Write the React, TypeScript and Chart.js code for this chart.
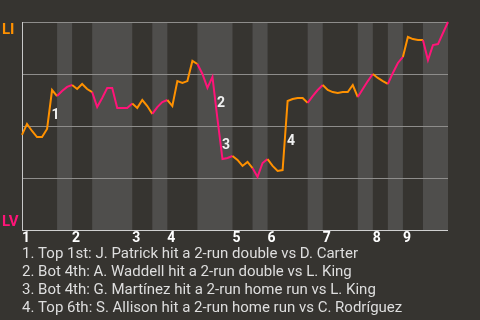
import React, { useEffect, useRef } from "react";
import { Chart, registerables } from "chart.js";

Chart.register(...registerables);

// Win probability for LI (1 = LI wins, 0 = LV wins), one value per game event
const winProb = [
  0.457, 0.51, 0.476, 0.447, 0.447, 0.486, 0.673, 0.644, 0.668, 0.688,
  0.697, 0.678, 0.702, 0.678, 0.663, 0.591, 0.635, 0.683, 0.683, 0.587,
  0.587, 0.587, 0.608, 0.587, 0.625, 0.596, 0.558, 0.591, 0.615, 0.625,
  0.596, 0.716, 0.707, 0.716, 0.813, 0.798, 0.75, 0.683, 0.736, 0.534,
  0.341, 0.346, 0.356, 0.337, 0.308, 0.327, 0.298, 0.255, 0.322, 0.341,
  0.308, 0.284, 0.288, 0.62, 0.63, 0.635, 0.635, 0.611, 0.644, 0.673,
  0.697, 0.673, 0.663, 0.659, 0.663, 0.663, 0.697, 0.639, 0.678, 0.716,
  0.75, 0.731, 0.716, 0.702, 0.755, 0.803, 0.832, 0.928, 0.918, 0.913,
  0.913, 0.817, 0.889, 0.894, 0.947, 1.0,
];

// Event index where each half-inning starts (top 1st, bot 1st, top 2nd, ...), last = end
const halfBounds = [0, 7, 10, 14, 22, 26, 29, 35, 42, 46, 49, 57, 60, 67, 70, 73, 76, 80, 85];
const innings = ["1", "2", "3", "4", "5", "6", "7", "8", "9"];
const teams = ["LI", "LV"];

// Key events: index of the event's end point
const eventIdx = [6, 39, 40, 53];
const eventLabels = ["1", "2", "3", "4"];
const notes = [
  "1. Top 1st: J. Patrick hit a 2-run double vs D. Carter",
  "2. Bot 4th: A. Waddell hit a 2-run double vs L. King",
  "3. Bot 4th: G. Martínez hit a 2-run home run vs L. King",
  "4. Top 6th: S. Allison hit a 2-run home run vs C. Rodríguez",
];
const gridValues = [0, 0.25, 0.5, 0.75, 1];

const ORANGE = "#ff9100";
const PINK = "#ff1478";
const BG = "#363430";
const BAND = "#4f4e4c";
const FONT = "Roboto, 'Noto Sans', sans-serif";

function halfOf(x: number): number {
  for (let i = 0; i < halfBounds.length - 1; i++) {
    if (x >= halfBounds[i] && x < halfBounds[i + 1]) return i;
  }
  return halfBounds.length - 2;
}

const decorPlugin = {
  id: "decor",
  beforeDatasetsDraw(chart: any) {
    const { ctx, chartArea } = chart;
    const xs = chart.scales.x;
    const ys = chart.scales.y;
    ctx.save();
    // bottom-half bands
    ctx.fillStyle = BAND;
    for (let i = 1; i < halfBounds.length - 1; i += 2) {
      const x0 = xs.getPixelForValue(halfBounds[i]);
      const x1 = xs.getPixelForValue(halfBounds[i + 1]);
      ctx.fillRect(x0, chartArea.top, x1 - x0, chartArea.bottom - chartArea.top);
    }
    // grid lines
    ctx.lineWidth = 1;
    for (const v of gridValues) {
      const y = Math.round(ys.getPixelForValue(v)) + 0.5;
      ctx.strokeStyle = v === 0 ? "#d0d0d0" : "#8e8d8b";
      ctx.beginPath();
      ctx.moveTo(chartArea.left, y);
      ctx.lineTo(chartArea.right, y);
      ctx.stroke();
    }
    // left axis
    const lx = Math.round(chartArea.left) + 0.5;
    ctx.strokeStyle = "#c8c8c8";
    ctx.beginPath();
    ctx.moveTo(lx, ys.getPixelForValue(1));
    ctx.lineTo(lx, ys.getPixelForValue(0) + 0.5);
    ctx.stroke();
    ctx.restore();
  },
  afterDatasetsDraw(chart: any) {
    const { ctx, chartArea } = chart;
    const xs = chart.scales.x;
    const ys = chart.scales.y;
    ctx.save();
    // event labels
    ctx.font = `bold 14px ${FONT}`;
    ctx.fillStyle = "#f0f0f0";
    ctx.textAlign = "center";
    ctx.textBaseline = "middle";
    eventIdx.forEach((idx, k) => {
      const xa = xs.getPixelForValue(idx - 1);
      const xb = xs.getPixelForValue(idx);
      const ya = ys.getPixelForValue(winProb[idx - 1]);
      const yb = ys.getPixelForValue(winProb[idx]);
      ctx.fillText(eventLabels[k], (xa + xb) / 2 + 6, (ya + yb) / 2 + 6);
    });
    // inning labels
    ctx.textAlign = "left";
    ctx.textBaseline = "alphabetic";
    ctx.fillStyle = "#ffffff";
    innings.forEach((lab, k) => {
      const x = xs.getPixelForValue(halfBounds[k * 2]);
      ctx.fillText(lab, x, chartArea.bottom + 12);
    });
    // team labels
    ctx.font = `bold 15px ${FONT}`;
    ctx.fillStyle = ORANGE;
    ctx.fillText(teams[0], 2, ys.getPixelForValue(1) + 11.5);
    ctx.fillStyle = PINK;
    ctx.fillText(teams[1], 2, ys.getPixelForValue(0) - 4.5);
    // notes
    ctx.font = `15px ${FONT}`;
    ctx.fillStyle = "#dedede";
    notes.forEach((t, k) => {
      ctx.fillText(t, chartArea.left, chartArea.bottom + 27.5 + k * 18);
    });
    ctx.restore();
  },
};

export default function App() {
  const ref = useRef<HTMLCanvasElement | null>(null);
  useEffect(() => {
    if (!ref.current) return;
    const chart = new Chart(ref.current, {
      type: "line",
      data: {
        datasets: [
          {
            data: winProb.map((v, i) => ({ x: i, y: v })),
            borderWidth: 2,
            pointRadius: 0,
            tension: 0,
            clip: false as any,
            borderColor: ORANGE,
            segment: {
              borderColor: (c: any) => (halfOf(c.p0.parsed.x) % 2 === 0 ? ORANGE : PINK),
            },
          },
        ],
      },
      options: {
        animation: false,
        responsive: false,
        maintainAspectRatio: false,
        events: [],
        layout: { padding: { left: 22, right: 32, top: 22, bottom: 90 } },
        plugins: { legend: { display: false }, tooltip: { enabled: false } },
        scales: {
          x: { type: "linear", min: 0, max: halfBounds[halfBounds.length - 1], display: false },
          y: { min: 0, max: 1, display: false },
        },
      },
      plugins: [decorPlugin],
    });
    return () => chart.destroy();
  }, []);
  return (
    <div style={{ position: "fixed", left: 0, top: 0, width: 480, height: 320, background: BG }}>
      <canvas ref={ref} width={480} height={320} style={{ display: "block" }} />
    </div>
  );
}
